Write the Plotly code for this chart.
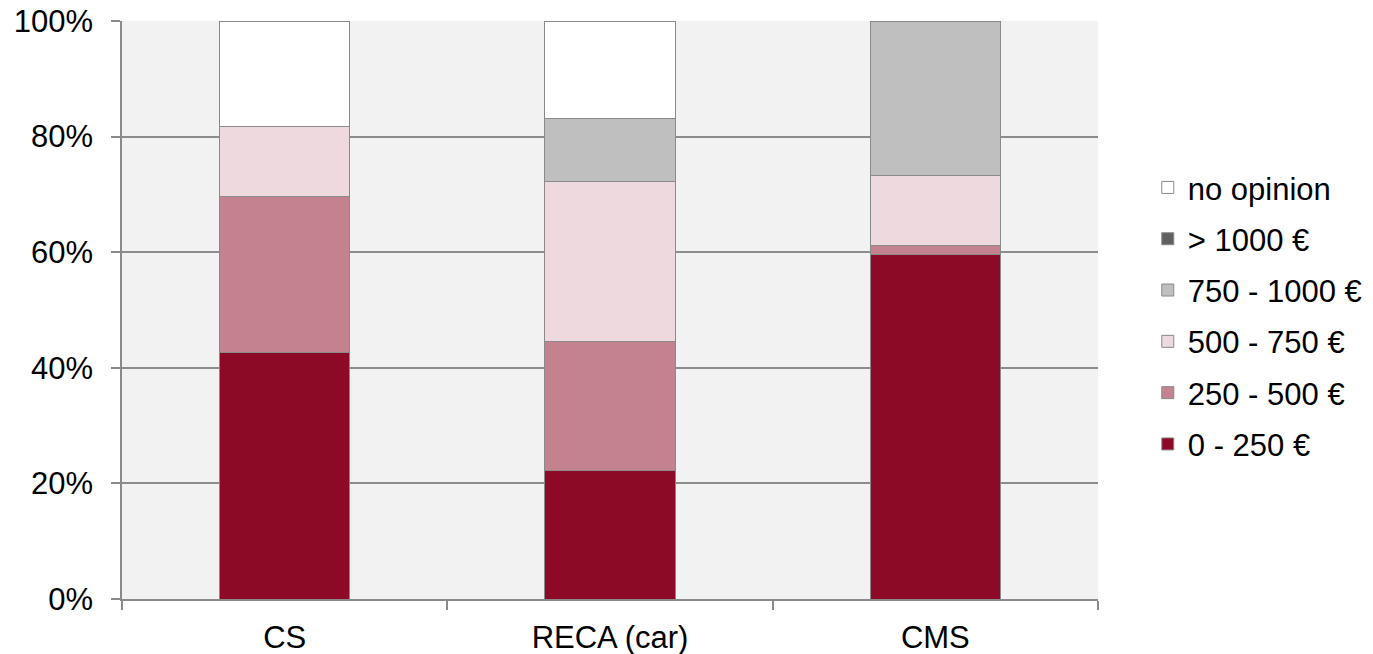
import plotly.graph_objects as go

categories = ["CS", "RECA (car)", "CMS"]
series_names = ["0 - 250 €", "250 - 500 €", "500 - 750 €", "750 - 1000 €", "> 1000 €", "no opinion"]
v_0_250 = [42.6, 22.3, 59.6]
v_250_500 = [27.1, 22.2, 1.5]
v_500_750 = [12.1, 27.7, 12.1]
v_750_1000 = [0.0, 11.0, 26.8]
v_over_1000 = [0.0, 0.0, 0.0]
v_no_opinion = [18.2, 16.8, 0.0]
colors = ["#8C0A26", "#C4828F", "#EED9DF", "#BFBFBF", "#606060", "#FFFFFF"]
y_ticks = [0, 20, 40, 60, 80, 100]
y_tick_labels = ["0%", "20%", "40%", "60%", "80%", "100%"]

values = [v_0_250, v_250_500, v_500_750, v_750_1000, v_over_1000, v_no_opinion]

fig = go.Figure()
n = len(series_names)
for i, (name, vals, col) in enumerate(zip(series_names, values, colors)):
    fig.add_trace(go.Bar(
        x=categories, y=vals, name=name, legendgroup=name,
        legendrank=n - i,
        marker=dict(color=col, line=dict(color="#8A8A8A", width=1)),
        width=0.4,
    ))

font_family = "Liberation Sans, Arial, sans-serif"
fig.update_layout(
    barmode="stack",
    width=1373, height=654,
    margin=dict(l=122, r=275, t=21, b=55, autoexpand=False),
    paper_bgcolor="white",
    plot_bgcolor="#F2F2F2",
    font=dict(family=font_family, size=31, color="black"),
    showlegend=True,
    legend=dict(
        x=1.051, xanchor="left", y=0.49, yanchor="middle",
        traceorder="grouped", tracegroupgap=8,
        font=dict(size=31), bgcolor="rgba(0,0,0,0)",
        itemwidth=30,
    ),
    xaxis=dict(
        type="category", showgrid=False, tickson="boundaries",
        ticks="outside", ticklen=9, tickcolor="#8A8A8A", tickwidth=1.5,
        showline=True, linecolor="#8A8A8A", linewidth=1.5,
        ticklabelstandoff=10, automargin=False,
    ),
    yaxis=dict(
        range=[0, 100], tickvals=y_ticks, ticktext=y_tick_labels,
        showgrid=True, gridcolor="#8C8C8C", gridwidth=1.5,
        ticks="outside", ticklen=9, tickcolor="#8A8A8A", tickwidth=1.5,
        showline=True, linecolor="#8A8A8A", linewidth=1.5,
        zeroline=False, ticklabelstandoff=12, automargin=False,
    ),
)

fig.write_html(
    "out.html",
    config={"displayModeBar": False},
    post_script="document.body.style.margin='0';document.body.style.overflow='hidden';",
)
